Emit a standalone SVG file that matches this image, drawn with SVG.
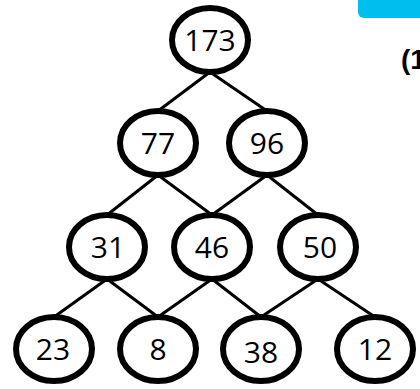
<svg xmlns="http://www.w3.org/2000/svg" width="420" height="389" viewBox="0 0 420 389">
<style>
.edge{stroke:#000;stroke-width:3;fill:none}
.node ellipse{fill:#fff;stroke:#000;stroke-width:6}
.node text{font-family:"Open Sans","DejaVu Sans",sans-serif;font-size:30px;fill:#000;text-anchor:middle}
</style>
<rect x="358" y="-10" width="80" height="28" rx="6" fill="#00BFEF"/>
<text x="401" y="69" font-family="'Liberation Sans',sans-serif" font-weight="bold" font-size="28">(1</text>
<g id="connectors">
<line class="edge" x1="210" y1="72" x2="158" y2="111"/>
<line class="edge" x1="210" y1="72" x2="267" y2="111"/>
<line class="edge" x1="158" y1="175" x2="107" y2="215"/>
<line class="edge" x1="158" y1="175" x2="212" y2="215"/>
<line class="edge" x1="267" y1="175" x2="212" y2="215"/>
<line class="edge" x1="267" y1="175" x2="318" y2="215"/>
<line class="edge" x1="107" y1="279" x2="54" y2="317"/>
<line class="edge" x1="107" y1="279" x2="158" y2="317"/>
<line class="edge" x1="212" y1="279" x2="158" y2="317"/>
<line class="edge" x1="212" y1="279" x2="261" y2="317"/>
<line class="edge" x1="318" y1="279" x2="261" y2="317"/>
<line class="edge" x1="318" y1="279" x2="375" y2="317"/>
</g>
<g id="n173" class="node"><ellipse cx="210" cy="40" rx="38" ry="32"/><text x="210" y="51">173</text></g>
<g id="n77" class="node"><ellipse cx="158" cy="143" rx="38" ry="32"/><text x="158" y="154">77</text></g>
<g id="n96" class="node"><ellipse cx="267" cy="143" rx="38" ry="32"/><text x="267" y="154">96</text></g>
<g id="n31" class="node"><ellipse cx="107" cy="247" rx="38" ry="32"/><text x="108" y="258">31</text></g>
<g id="n46" class="node"><ellipse cx="212" cy="247" rx="38" ry="32"/><text x="212" y="258">46</text></g>
<g id="n50" class="node"><ellipse cx="318" cy="247" rx="38" ry="32"/><text x="320" y="258">50</text></g>
<g id="n23" class="node"><ellipse cx="54" cy="349" rx="38" ry="32"/><text x="53" y="360">23</text></g>
<g id="n8" class="node"><ellipse cx="158" cy="349" rx="38" ry="32"/><text x="158" y="360">8</text></g>
<g id="n38" class="node"><ellipse cx="261" cy="349" rx="38" ry="32"/><text x="261" y="363">38</text></g>
<g id="n12" class="node"><ellipse cx="375" cy="349" rx="38" ry="32"/><text x="375" y="360">12</text></g>
</svg>
